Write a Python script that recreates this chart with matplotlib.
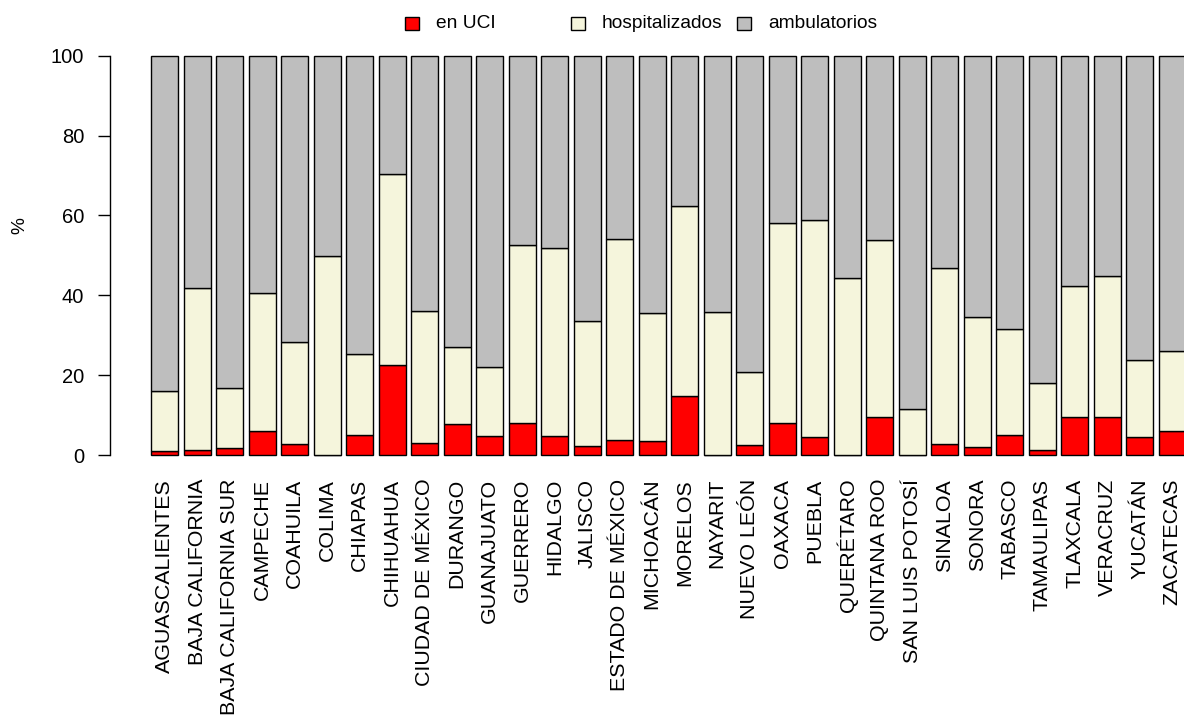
import matplotlib.pyplot as plt
from matplotlib.patches import Rectangle
import numpy as np

plt.rcParams['font.family'] = ['Liberation Sans', 'DejaVu Sans']

estados = ["AGUASCALIENTES", "BAJA CALIFORNIA", "BAJA CALIFORNIA SUR", "CAMPECHE",
           "COAHUILA", "COLIMA", "CHIAPAS", "CHIHUAHUA", "CIUDAD DE MÉXICO", "DURANGO",
           "GUANAJUATO", "GUERRERO", "HIDALGO", "JALISCO", "ESTADO DE MÉXICO", "MICHOACÁN",
           "MORELOS", "NAYARIT", "NUEVO LEÓN", "OAXACA", "PUEBLA", "QUERÉTARO",
           "QUINTANA ROO", "SAN LUIS POTOSÍ", "SINALOA", "SONORA", "TABASCO", "TAMAULIPAS",
           "TLAXCALA", "VERACRUZ", "YUCATÁN", "ZACATECAS"]

# percent in UCI
uci = [1.1, 1.25, 1.8, 6.0, 2.7, 0.0, 5.0, 22.5, 3.0, 7.7,
       4.8, 7.9, 4.8, 2.3, 3.7, 3.5, 14.8, 0.0, 2.4, 8.0,
       4.6, 0.0, 9.4, 0.0, 2.75, 1.9, 5.1, 1.25, 9.4, 9.4,
       4.6, 6.0]
# cumulative top of hospitalizados (uci + hospitalizados)
hosp_top = [16.0, 41.7, 16.9, 40.6, 28.3, 49.9, 25.3, 70.3, 36.1, 27.0,
            22.0, 52.7, 51.8, 33.6, 54.0, 35.6, 62.4, 35.8, 20.9, 58.0,
            58.9, 44.3, 53.8, 11.4, 46.8, 34.6, 31.6, 18.0, 42.4, 44.9,
            23.7, 26.0]

uci = np.array(uci)
hosp = np.array(hosp_top) - uci
amb = 100 - np.array(hosp_top)

series = ["en UCI", "hospitalizados", "ambulatorios"]
colors = ["#FF0000", "#F5F5DC", "#BEBEBE"]

W, H = 1184, 717
fig = plt.figure(figsize=(W / 100, H / 100), dpi=100)

# plot region in pixels (R-like, extends past right edge)
left, right, top, bottom = 109.9, 1227.0, 39.7, 471.0
ax = fig.add_axes([left / W, 1 - bottom / H, (right - left) / W, (bottom - top) / H])

x = 0.7 + 1.2 * np.arange(len(estados))
base = np.zeros(len(estados))
for vals, c in zip([uci, hosp, amb], colors):
    ax.bar(x, vals, width=1.0, bottom=base, color=c, edgecolor="black", linewidth=1.0)
    base = base + vals

ax.set_xlim(-1.328, 39.928)
ax.set_ylim(-4, 104)

for s in ["top", "right", "bottom"]:
    ax.spines[s].set_visible(False)
ax.spines["left"].set_bounds(0, 100)
ax.spines["left"].set_linewidth(1.0)

ax.set_yticks([0, 20, 40, 60, 80, 100])
ax.tick_params(axis="y", length=8.6, width=1.0, pad=10, labelsize=14.5)
ax.set_xticks(x)
ax.set_xticklabels(estados, rotation=90, fontsize=15.4, va="top", ha="center")
ax.tick_params(axis="x", length=0, pad=5.6)

fig.text(20 / W, 1 - 226 / H, "%", rotation=90, fontsize=13.8, ha="center", va="center")

# legend drawn like R's horizontal legend (equal column widths)
leg_y = 23.5
for i, (name, c) in enumerate(zip(series, colors)):
    x0 = 405 + i * 166
    fig.patches.append(Rectangle((x0 / W, 1 - (leg_y + 6.5) / H), 14 / W, 13 / H,
                                 transform=fig.transFigure, facecolor=c,
                                 edgecolor="black", linewidth=1.0))
    fig.text((x0 + 31) / W, 1 - leg_y / H, name, fontsize=13.8, ha="left", va="center")

fig.savefig("out.png", dpi=100)
